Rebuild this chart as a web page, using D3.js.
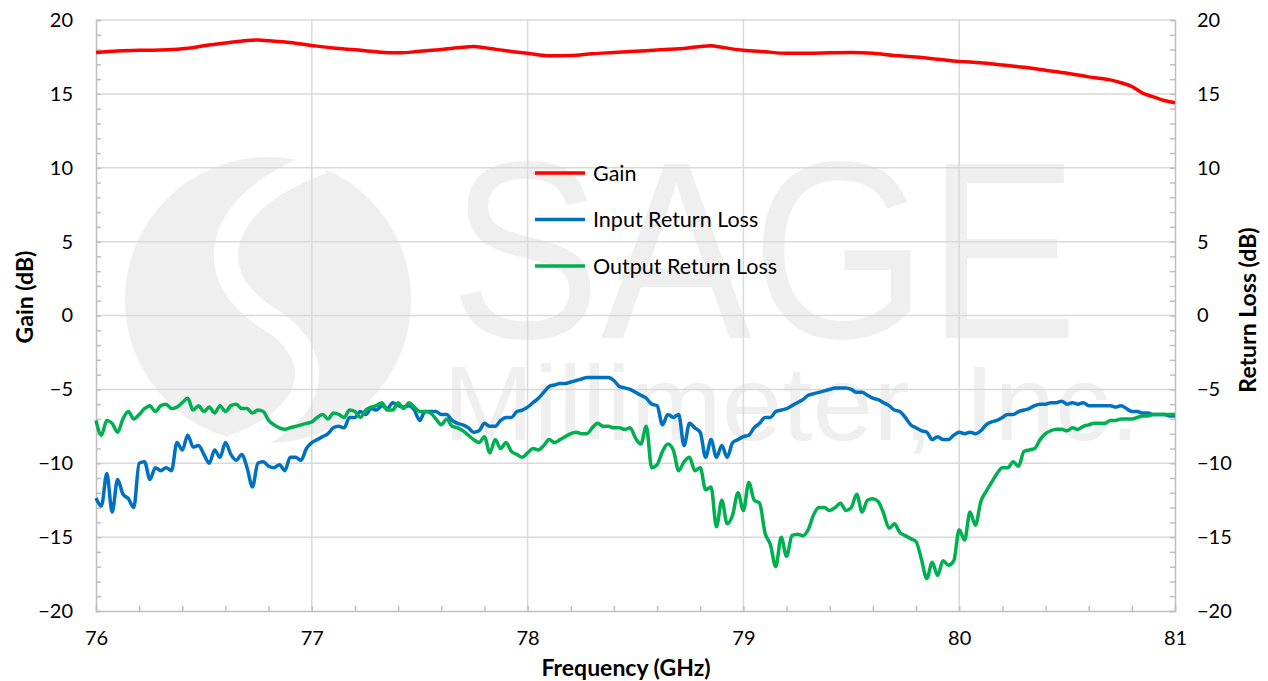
<!DOCTYPE html>
<html>
<head>
<meta charset="utf-8">
<script src="https://cdn.jsdelivr.net/npm/d3@7"></script>
<style>
  body { margin: 0; background: #fff; }
  svg { display: block; font-family: Lato, "Liberation Sans", sans-serif; }
</style>
</head>
<body>
<svg id="chart" width="1268" height="681"></svg>
<script>
// gain sweep (GHz, dB)
const gainFreq = [76.0, 76.1, 76.2, 76.3, 76.4, 76.5, 76.6, 76.7, 76.75, 76.8, 76.9,
  77.0, 77.1, 77.2, 77.3, 77.4, 77.5, 77.6, 77.7, 77.75, 77.8, 77.9,
  78.0, 78.1, 78.2, 78.3, 78.4, 78.5, 78.6, 78.7, 78.8, 78.85, 78.9,
  79.0, 79.1, 79.2, 79.3, 79.4, 79.5, 79.6, 79.7, 79.8, 79.9,
  80.0, 80.1, 80.2, 80.3, 80.4, 80.5, 80.6, 80.7, 80.75, 80.8, 80.85, 80.9, 80.95, 81.0]
const gain = [17.8, 17.9, 17.95, 17.97, 18.05, 18.25, 18.45, 18.62, 18.65, 18.6, 18.48,
  18.28, 18.1, 17.98, 17.85, 17.78, 17.88, 18.0, 18.15, 18.2, 18.12, 17.92,
  17.75, 17.58, 17.6, 17.72, 17.8, 17.88, 17.97, 18.05, 18.2, 18.25, 18.15,
  17.95, 17.85, 17.75, 17.75, 17.78, 17.8, 17.75, 17.6, 17.5, 17.35,
  17.2, 17.1, 16.95, 16.8, 16.6, 16.4, 16.15, 15.95, 15.75, 15.5, 15.05, 14.8, 14.55, 14.4]

// return loss sweep, 76 to 81 GHz in 25 MHz steps
const rlFreq = d3.range(201).map(i => 76 + i * 0.025)
const inputRL = [
  -12.35, -12.9, -10.7, -13.3, -11.1, -12.1, -12.4, -13.0, -10.0, -9.9,
  -11.1, -10.3, -10.5, -10.3, -10.5, -8.6, -9.1, -8.1, -8.9, -8.8,
  -9.4, -10.0, -9.1, -9.6, -8.6, -9.4, -9.8, -9.4, -10.3, -11.6,
  -10.0, -9.9, -10.2, -10.3, -10.1, -10.5, -9.6, -9.6, -9.8, -9.0,
  -8.6, -8.4, -8.2, -8.0, -7.6, -7.5, -7.6, -6.9, -6.9, -6.5,
  -6.7, -6.3, -6.4, -6.1, -6.3, -5.9, -6.1, -6.2, -6.1, -6.4,
  -7.1, -6.5, -6.5, -6.5, -6.7, -6.7, -7.1, -7.3, -7.4, -7.6,
  -7.9, -7.8, -7.3, -7.5, -7.5, -7.1, -6.9, -6.9, -6.5, -6.4,
  -6.2, -5.9, -5.6, -5.2, -4.8, -4.7, -4.6, -4.6, -4.5, -4.4,
  -4.3, -4.2, -4.2, -4.2, -4.2, -4.2, -4.4, -4.8, -4.9, -5.0,
  -5.2, -5.4, -5.6, -6.0, -6.1, -7.4, -6.7, -6.9, -6.7, -8.8,
  -7.3, -7.6, -7.9, -9.6, -8.4, -9.6, -8.8, -9.6, -8.6, -8.4,
  -8.2, -8.1, -7.6, -7.3, -6.9, -6.9, -6.5, -6.4, -6.3, -6.1,
  -5.9, -5.7, -5.4, -5.3, -5.2, -5.1, -5.0, -4.9, -4.9, -4.9,
  -5.0, -5.2, -5.2, -5.4, -5.6, -5.7, -5.9, -6.1, -6.4, -6.5,
  -6.9, -7.4, -7.6, -7.8, -7.9, -8.4, -8.2, -8.4, -8.4, -8.1,
  -7.9, -8.0, -7.9, -8.0, -7.8, -7.4, -7.2, -7.1, -6.9, -6.7,
  -6.7, -6.5, -6.4, -6.3, -6.1, -6.0, -6.0, -5.9, -5.9, -5.8,
  -6.0, -5.9, -6.0, -5.9, -6.1, -6.1, -6.1, -6.1, -6.1, -6.2,
  -6.1, -6.3, -6.5, -6.5, -6.6, -6.6, -6.7, -6.7, -6.7, -6.8,
  -6.8]
const outputRL = [
  -7.1, -8.1, -7.1, -7.3, -7.9, -7.0, -6.5, -7.0, -6.7, -6.3,
  -6.1, -6.5, -6.1, -6.0, -6.3, -6.2, -5.9, -5.6, -6.4, -6.1,
  -6.5, -6.2, -6.6, -6.1, -6.5, -6.1, -6.0, -6.3, -6.3, -6.6,
  -6.4, -6.5, -7.1, -7.4, -7.6, -7.7, -7.6, -7.5, -7.4, -7.3,
  -7.2, -6.9, -6.7, -7.0, -6.6, -6.7, -6.9, -6.4, -6.5, -6.9,
  -6.4, -6.2, -6.1, -5.9, -6.4, -6.4, -5.9, -6.3, -5.9, -6.2,
  -6.5, -6.5, -6.6, -7.0, -7.4, -7.0, -7.5, -7.6, -7.8, -8.1,
  -8.4, -8.6, -8.2, -9.3, -8.4, -9.0, -8.6, -9.2, -9.4, -9.6,
  -9.3, -9.0, -9.1, -8.8, -8.4, -8.6, -8.4, -8.2, -8.0, -7.9,
  -8.0, -8.0, -7.6, -7.3, -7.5, -7.5, -7.6, -7.6, -7.7, -7.6,
  -8.3, -8.7, -7.5, -10.3, -10.1, -9.2, -8.7, -9.1, -10.5, -9.9,
  -9.6, -10.5, -10.3, -11.8, -11.6, -14.3, -12.5, -14.1, -13.5, -12.0,
  -13.2, -11.3, -12.5, -12.7, -14.7, -15.5, -17.0, -15.0, -16.3, -14.9,
  -14.8, -14.9, -14.5, -13.5, -13.0, -13.0, -13.2, -13.0, -12.7, -13.2,
  -13.0, -12.1, -13.3, -12.5, -12.4, -12.6, -13.4, -14.4, -14.1, -14.7,
  -14.9, -15.1, -15.3, -16.5, -17.8, -16.7, -17.6, -16.6, -16.9, -16.6,
  -14.5, -15.2, -13.3, -14.2, -12.6, -11.9, -11.3, -10.7, -10.3, -10.3,
  -9.9, -10.2, -9.2, -9.1, -9.0, -8.4, -8.0, -7.8, -7.7, -7.7,
  -7.8, -7.6, -7.7, -7.5, -7.4, -7.3, -7.3, -7.3, -7.1, -7.1,
  -7.0, -7.0, -7.0, -6.9, -6.8, -6.8, -6.7, -6.7, -6.7, -6.7,
  -6.7]

const yTicks = [-20, -15, -10, -5, 0, 5, 10, 15, 20]
const xTicks = [76, 77, 78, 79, 80, 81]
const seriesNames = ["Gain", "Input Return Loss", "Output Return Loss"]
const seriesColors = ["#ff0000", "#0070c0", "#00b050"]

const margin = { top: 20, right: 93, bottom: 70, left: 96 }
const width = 1268
const height = 681

const svg = d3.select("#chart")

const x = d3.scaleLinear()
  .domain([76, 81])
  .range([margin.left, width - margin.right])

const y = d3.scaleLinear()
  .domain([-20, 20])
  .range([height - margin.bottom, margin.top])

// watermark
const wm = svg.append("g").attr("fill", "#efefef")
wm.append("circle").attr("cx", 268).attr("cy", 300).attr("r", 143)
wm.append("path")
  .attr("d", "M 322 162 C 205 205, 205 280, 268 318 C 330 356, 318 418, 232 447")
  .attr("fill", "none")
  .attr("stroke", "#fff")
  .attr("stroke-width", 24)
wm.append("text")
  .attr("x", 450).attr("y", 338)
  .attr("font-family", "Liberation Sans, Arial, sans-serif")
  .attr("font-size", 253)
  .attr("textLength", 628)
  .attr("lengthAdjust", "spacingAndGlyphs")
  .text("SAGE")
wm.append("text")
  .attr("x", 443).attr("y", 440)
  .attr("font-family", "Liberation Sans, Arial, sans-serif")
  .attr("font-size", 105)
  .attr("textLength", 697)
  .attr("lengthAdjust", "spacingAndGlyphs")
  .text("Millimeter, Inc.")

// gridlines
svg.append("g")
  .attr("stroke", "#d9d9d9")
  .attr("stroke-width", 1.5)
  .call(g => g.selectAll("line.h")
    .data(yTicks.slice(1))
    .join("line")
    .attr("x1", x(76)).attr("x2", x(81))
    .attr("y1", d => y(d)).attr("y2", d => y(d)))
  .call(g => g.selectAll("line.v")
    .data(xTicks.slice(1, -1))
    .join("line")
    .attr("y1", y(-20)).attr("y2", y(20))
    .attr("x1", d => x(d)).attr("x2", d => x(d)))

// minor ticks + axis lines
const minorY = d3.range(-20, 21, 1)
const minorX = d3.range(76, 81.001, 0.2)

svg.append("g")
  .attr("transform", `translate(${margin.left},0)`)
  .call(d3.axisLeft(y).tickValues(minorY).tickSize(-5).tickFormat(""))
svg.append("g")
  .attr("transform", `translate(${width - margin.right},0)`)
  .call(d3.axisRight(y).tickValues(minorY).tickSize(-5).tickFormat(""))
svg.append("g")
  .attr("transform", `translate(0,${height - margin.bottom})`)
  .call(d3.axisBottom(x).tickValues(minorX).tickSize(-5).tickFormat(""))
svg.selectAll(".tick line").attr("stroke", "#bfbfbf").attr("stroke-width", 1.5)
svg.selectAll(".domain").attr("stroke", "#bfbfbf").attr("stroke-width", 1.5)

// tick labels
svg.append("g")
  .attr("transform", `translate(${margin.left},0)`)
  .call(d3.axisLeft(y).tickValues(yTicks).tickSize(0).tickPadding(23))
  .call(g => g.select(".domain").remove())
svg.append("g")
  .attr("transform", `translate(${width - margin.right},0)`)
  .call(d3.axisRight(y).tickValues(yTicks).tickSize(0).tickPadding(22))
  .call(g => g.select(".domain").remove())
svg.append("g")
  .attr("transform", `translate(0,${height - margin.bottom})`)
  .call(d3.axisBottom(x).tickValues(xTicks).tickSize(0).tickPadding(20).tickFormat(d3.format("d")))
  .call(g => g.select(".domain").remove())
svg.selectAll(".tick text")
  .attr("font-family", "Lato, 'Liberation Sans', sans-serif")
  .attr("font-size", 20)
  .attr("fill", "#000")

// axis titles
svg.append("text")
  .attr("transform", "translate(33,297) rotate(-90)")
  .attr("text-anchor", "middle")
  .attr("font-size", 23).attr("font-weight", "bold")
  .text("Gain (dB)")
svg.append("text")
  .attr("transform", "translate(1256,310) rotate(-90)")
  .attr("text-anchor", "middle")
  .attr("font-size", 23).attr("font-weight", "bold")
  .text("Return Loss (dB)")
svg.append("text")
  .attr("x", 626).attr("y", 676)
  .attr("text-anchor", "middle")
  .attr("font-size", 23).attr("font-weight", "bold")
  .text("Frequency (GHz)")

// series
const line = d3.line()
  .curve(d3.curveMonotoneX)
  .x(d => x(d[0]))
  .y(d => y(d[1]))

const series = [
  d3.zip(gainFreq, gain),
  d3.zip(rlFreq, inputRL),
  d3.zip(rlFreq, outputRL)
]

svg.append("g")
  .selectAll("path")
  .data(series)
  .join("path")
  .attr("fill", "none")
  .attr("stroke", (d, i) => seriesColors[i])
  .attr("stroke-width", 3.5)
  .attr("stroke-linejoin", "round")
  .attr("d", line)

// legend
const legend = svg.append("g")
  .selectAll("g")
  .data(seriesNames)
  .join("g")
  .attr("transform", (d, i) => `translate(535,${173 + i * 46.5})`)
legend.append("line")
  .attr("x1", 0).attr("x2", 50)
  .attr("stroke", (d, i) => seriesColors[i])
  .attr("stroke-width", 3.5)
legend.append("text")
  .attr("x", 58).attr("dy", "0.35em")
  .attr("font-size", 21.5)
  .text(d => d)
</script>
</body>
</html>
